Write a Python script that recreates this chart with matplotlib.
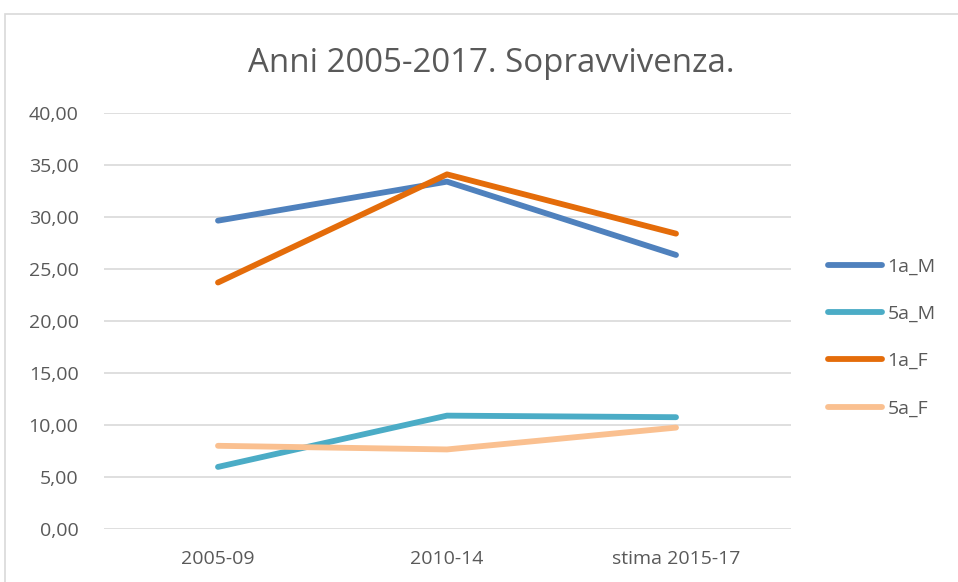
import matplotlib.pyplot as plt
from matplotlib.patches import Rectangle
from matplotlib.ticker import FuncFormatter

periodi = ["2005-09", "2010-14", "stima 2015-17"]
serie = ["1a_M", "5a_M", "1a_F", "5a_F"]
valori_1a_M = [29.65, 33.4, 26.35]
valori_5a_M = [5.97, 10.9, 10.75]
valori_1a_F = [23.7, 34.1, 28.4]
valori_5a_F = [8.0, 7.65, 9.75]
colori = ["#4f81bd", "#4bacc6", "#e46c0a", "#fac090"]

plt.rcParams['font.family'] = ['Open Sans', 'DejaVu Sans']
grigio = "#595959"

fig = plt.figure(figsize=(9.58, 5.82), dpi=100)
# cornice del grafico
fig.patches.append(Rectangle((5 / 958, -0.1), 1.1, 1 - 14 / 582 + 0.1,
                             transform=fig.transFigure, fill=False,
                             edgecolor="#d9d9d9", linewidth=1.2))
ax = fig.add_axes([103.5 / 958, 1 - 529 / 582, 687 / 958, 416 / 582])

x = range(len(periodi))
for nome, vals, col in zip(serie, [valori_1a_M, valori_5a_M, valori_1a_F, valori_5a_F], colori):
    ax.plot(x, vals, color=col, linewidth=4.2, solid_capstyle='round',
            solid_joinstyle='round', label=nome, zorder=3)

ax.set_xlim(-0.5, 2.5)
ax.set_ylim(0, 40)
ax.set_yticks(range(0, 41, 5))
ax.yaxis.set_major_formatter(FuncFormatter(lambda v, p: f"{v:.2f}".replace(".", ",")))
ax.set_xticks(list(x))
ax.set_xticklabels(periodi)
ax.grid(axis='y', color="#d9d9d9", linewidth=1.2, zorder=0)
for s in ax.spines.values():
    s.set_visible(False)
ax.tick_params(length=0, labelsize=14, labelcolor=grigio)
ax.tick_params(axis='y', pad=18)
ax.tick_params(axis='x', pad=15)

fig.text(491 / 958, 1 - 63 / 582, "Anni 2005-2017. Sopravvivenza.", ha='center', va='center',
         fontsize=23.8, color=grigio)

ax.legend(loc='center left', bbox_to_anchor=(1.0546, 0.46), frameon=False,
          fontsize=14, labelcolor=grigio, handlelength=2.8, handletextpad=0.25,
          labelspacing=1.5, borderaxespad=0, borderpad=0)

fig.savefig("out.png", dpi=100)
